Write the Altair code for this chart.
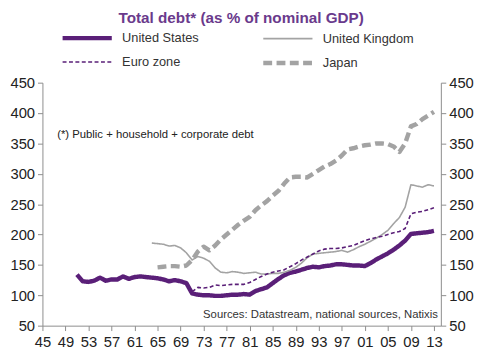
import altair as alt
import pandas as pd

series_names = ["United States", "United Kingdom", "Euro zone", "Japan"]

us_years = list(range(1951, 2014))
us_values = [134, 123, 122, 124, 129, 124, 126, 126, 131, 127, 130, 131, 130, 129, 128, 126,
             123, 125, 123, 120, 103, 101, 100, 100, 99, 99, 100, 101, 101, 102, 101, 107,
             110, 113, 120, 127, 133, 137, 139, 142, 145, 147, 146, 148, 149, 151, 151, 150,
             149, 149, 148, 153, 159, 164, 169, 175, 182, 190, 201, 202, 203, 204, 206]

uk_years = list(range(1964, 2014))
uk_values = [186, 185, 184, 181, 182, 178, 170, 158, 164, 161, 156, 145, 138, 137, 139, 138,
             136, 137, 138, 135, 135, 136, 136, 138, 141, 146, 153, 162, 168, 169, 170, 171,
             172, 174, 171, 175, 180, 184, 189, 194, 200, 207, 218, 228, 245, 282, 280, 278,
             282, 280]

ez_years = list(range(1971, 2014))
ez_values = [106, 113, 112, 113, 117, 116, 117, 118, 118, 118, 121, 126, 131, 135, 138, 140,
             142, 147, 152, 158, 163, 168, 173, 176, 177, 177, 178, 180, 182, 186, 190, 193,
             195, 197, 200, 203, 205, 210, 234, 237, 238, 241, 244]

jp_years = list(range(1965, 2014))
jp_values = [146, 147, 148, 148, 147, 149, 158, 172, 180, 174, 182, 192, 200, 208, 216, 223,
             229, 240, 248, 255, 264, 272, 284, 294, 295, 295, 294, 300, 306, 312, 316, 322,
             330, 340, 342, 345, 347, 348, 350, 350, 349, 345, 336, 350, 378, 382, 390, 396,
             402]

x_ticks = list(range(1945, 2014, 4))
y_ticks = list(range(50, 451, 50))

title_text = "Total debt* (as % of nominal GDP)"
note_text = "(*) Public + household + corporate debt"
source_text = "Sources: Datastream, national sources, Natixis"

frames = []
for name, yrs, vals in [("United States", us_years, us_values),
                        ("United Kingdom", uk_years, uk_values),
                        ("Euro zone", ez_years, ez_values),
                        ("Japan", jp_years, jp_values)]:
    frames.append(pd.DataFrame({"series": name, "year": yrs, "value": vals}))
df = pd.concat(frames, ignore_index=True)

FONT = "Liberation Sans"
PURPLE = "#5a1f78"
GRAY = "#a3a3a3"
AXIS_GRAY = "#8c8c8c"

# wide horizontal stroke as legend symbol: size 100 -> scale 5 -> 50px long
legend_cfg = dict(title=None, orient="none", legendX=38, legendY=-53, columns=2,
                  direction="horizontal", symbolType="M-5,0H5", symbolSize=100,
                  labelFont=FONT, labelFontSize=13, labelColor="#333333",
                  labelOffset=28, columnPadding=55, rowPadding=6.5, labelLimit=200)

x_scale = alt.Scale(domain=[1945, 2014.2], nice=False, zero=False)
y_scale = alt.Scale(domain=[50, 450], nice=False, zero=False)

x_axis = alt.Axis(values=x_ticks, format="d",
                  labelExpr="substring(datum.label, 2)",
                  title=None, grid=False, domainColor=AXIS_GRAY,
                  tickColor=AXIS_GRAY, tickSize=5, labelFontSize=15,
                  labelColor="#222222", labelFont=FONT, labelPadding=4,
                  labelFlush=False, labelOverlap=False, labelBound=False)

lines = alt.Chart(df).mark_line(strokeJoin="round").encode(
    x=alt.X("year:Q", scale=x_scale, axis=x_axis),
    y=alt.Y("value:Q", scale=y_scale,
            axis=alt.Axis(values=y_ticks, title=None, grid=False, domainColor=AXIS_GRAY,
                          tickColor=AXIS_GRAY, tickSize=5, labelFontSize=15,
                          labelColor="#222222", labelFont=FONT, labelPadding=3)),
    color=alt.Color("series:N",
                    scale=alt.Scale(domain=series_names,
                                    range=[PURPLE, GRAY, PURPLE, GRAY]),
                    legend=alt.Legend(**legend_cfg)),
    strokeDash=alt.StrokeDash("series:N",
                              scale=alt.Scale(domain=series_names,
                                              range=[[1, 0], [1, 0], [4, 2.5], [9, 4.5]]),
                              legend=alt.Legend(**legend_cfg)),
    strokeWidth=alt.StrokeWidth("series:N",
                                scale=alt.Scale(type="ordinal", domain=series_names,
                                                range=[4.5, 1.6, 1.6, 4.5]),
                                legend=alt.Legend(**legend_cfg)),
    order="year:Q",
)

right_axis = alt.Chart(df).mark_line(opacity=0).encode(
    x=alt.X("year:Q", scale=x_scale, axis=x_axis),
    y=alt.Y("value:Q", scale=y_scale,
            axis=alt.Axis(orient="right", values=y_ticks, title=None, grid=False,
                          domainColor=AXIS_GRAY, tickColor=AXIS_GRAY, tickSize=5,
                          labelFontSize=15, labelColor="#222222", labelFont=FONT,
                          labelPadding=3)),
    detail="series:N",
)

title = alt.Chart(pd.DataFrame({"t": [title_text]})).mark_text(
    align="center", baseline="alphabetic", font=FONT, fontSize=15.5, fontWeight="bold",
    color="#6a3a8c"
).encode(x=alt.value(202), y=alt.value(-61), text="t:N")

note = alt.Chart(pd.DataFrame({"t": [note_text]})).mark_text(
    align="left", baseline="middle", font=FONT, fontSize=11.5, color="#222222"
).encode(x=alt.value(15), y=alt.value(53), text="t:N")

source = alt.Chart(pd.DataFrame({"t": [source_text]})).mark_text(
    align="right", baseline="alphabetic", font=FONT, fontSize=11.5, color="#333333"
).encode(x=alt.value(402), y=alt.value(239), text="t:N")

chart = alt.layer(lines, right_axis, title, note, source).resolve_scale(
    y="independent"
).properties(
    width=405, height=247,
    padding={"left": 35, "top": 73, "right": 52, "bottom": 31},
    autosize=alt.AutoSizeParams(type="none"),
).configure_view(stroke=None)

chart.save("out.html", embed_options={"renderer": "svg", "actions": False})
